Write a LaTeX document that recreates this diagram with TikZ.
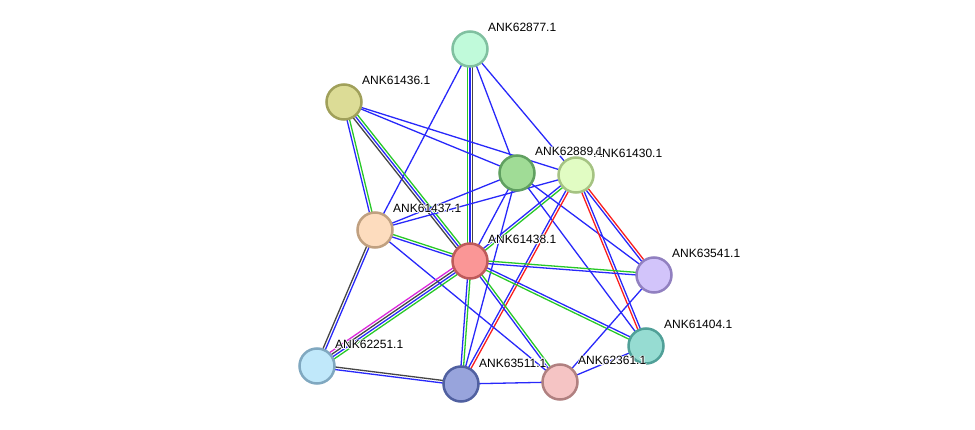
\documentclass[tikz,border=0pt]{standalone}
\usepackage{fontspec}
\setmainfont{Liberation Sans}
\usetikzlibrary{calc,backgrounds}
\definecolor{eblue}{RGB}{40,40,250}
\definecolor{egreen}{RGB}{40,200,40}
\definecolor{ered}{RGB}{250,30,30}
\definecolor{egray}{RGB}{70,70,70}
\definecolor{emag}{RGB}{220,40,220}
\definecolor{dA}{RGB}{128,192,160}\definecolor{fA}{RGB}{192,250,218}
\definecolor{dB}{RGB}{160,160,90}\definecolor{fB}{RGB}{220,220,150}
\definecolor{dC}{RGB}{96,160,96}\definecolor{fC}{RGB}{160,220,150}
\definecolor{dD}{RGB}{165,195,130}\definecolor{fD}{RGB}{225,252,195}
\definecolor{dE}{RGB}{192,160,128}\definecolor{fE}{RGB}{253,220,190}
\definecolor{dF}{RGB}{190,90,90}\definecolor{fF}{RGB}{250,150,150}
\definecolor{dG}{RGB}{145,128,192}\definecolor{fG}{RGB}{210,196,250}
\definecolor{dH}{RGB}{80,160,152}\definecolor{fH}{RGB}{150,220,210}
\definecolor{dI}{RGB}{128,168,192}\definecolor{fI}{RGB}{192,232,250}
\definecolor{dJ}{RGB}{80,96,160}\definecolor{fJ}{RGB}{152,164,220}
\definecolor{dK}{RGB}{176,128,128}\definecolor{fK}{RGB}{245,196,196}
\newcommand\hw[3]{\rlap{\hspace{#1}\raisebox{#2}{\color{white}#3}}}
\newcommand\halo[1]{\hw{0.9pt}{0pt}{#1}\hw{-0.9pt}{0pt}{#1}\hw{0pt}{0.9pt}{#1}\hw{0pt}{-0.9pt}{#1}\hw{0.65pt}{0.65pt}{#1}\hw{-0.65pt}{0.65pt}{#1}\hw{0.65pt}{-0.65pt}{#1}\hw{-0.65pt}{-0.65pt}{#1}#1}
% multi-line link: #1,#2 node names, #3 list colour/offset
\newcommand\mlink[3]{\foreach \c/\o in {#3}{\draw[\c,line width=1.3pt] ($(#1)!\o*2.6pt!90:(#2)$) -- ($(#2)!\o*2.6pt!-90:(#1)$);}}
\tikzset{
  prot/.style 2 args={circle,draw=#1,fill=#2,line width=2.5pt,minimum size=35pt,inner sep=0pt},
  lbl/.style={anchor=base west,inner sep=0pt,font=\fontsize{12}{12}\selectfont,text=black}
}
\begin{document}
\begin{tikzpicture}[x=1pt,y=-1pt]
\useasboundingbox (0,0) rectangle (975,430);
\node[prot={dA}{fA}] (n62877) at (470,49) {};
\node[prot={dB}{fB}] (n61436) at (344,102) {};
\node[prot={dC}{fC}] (n62889) at (517,173) {};
\node[prot={dD}{fD}] (n61430) at (576,175) {};
\node[prot={dE}{fE}] (n61437) at (375,230) {};
\node[prot={dF}{fF}] (n61438) at (470,261) {};
\node[prot={dG}{fG}] (n63541) at (654,275) {};
\node[prot={dH}{fH}] (n61404) at (646,346) {};
\node[prot={dI}{fI}] (n62251) at (317,366) {};
\node[prot={dJ}{fJ}] (n63511) at (461,384) {};
\node[prot={dK}{fK}] (n62361) at (560,382) {};
\begin{scope}[on background layer]
\mlink{n62877}{n61438}{egreen/-1,eblue/0,egray/1}
\mlink{n62877}{n61437}{eblue/0}
\mlink{n62877}{n62889}{eblue/0}
\mlink{n62877}{n61430}{eblue/0}
\mlink{n61436}{n61437}{eblue/-0.5,egreen/0.5}
\mlink{n61436}{n61438}{egray/-1,eblue/0,egreen/1}
\mlink{n61436}{n62889}{eblue/0}
\mlink{n61436}{n61430}{eblue/0}
\mlink{n62889}{n61437}{eblue/0}
\mlink{n61430}{n61437}{eblue/0}
\mlink{n62889}{n61438}{eblue/0}
\mlink{n61430}{n61438}{egreen/0.5,eblue/-0.5}
\mlink{n62889}{n63511}{eblue/0}
\mlink{n62889}{n63541}{eblue/0}
\mlink{n62889}{n61404}{eblue/0}
\mlink{n61430}{n63511}{eblue/-0.5,ered/0.5}
\mlink{n61430}{n63541}{eblue/-0.5,ered/0.5}
\mlink{n61430}{n61404}{eblue/0.5,ered/-0.5}
\mlink{n61437}{n61438}{egreen/0.5,eblue/-0.5}
\mlink{n61437}{n62251}{egray/-0.5,eblue/0.5}
\mlink{n61437}{n62361}{eblue/0}
\mlink{n61438}{n63541}{egreen/0.5,eblue/-0.5}
\mlink{n61438}{n61404}{egreen/-0.5,eblue/0.5}
\mlink{n61438}{n62251}{emag/-1.5,egray/-0.5,eblue/0.5,egreen/1.5}
\mlink{n61438}{n63511}{eblue/-0.5,egreen/0.5}
\mlink{n61438}{n62361}{eblue/-0.5,egreen/0.5}
\mlink{n62251}{n63511}{egray/0.5,eblue/-0.5}
\mlink{n63511}{n62361}{eblue/0}
\mlink{n62361}{n63541}{eblue/0}
\mlink{n62361}{n61404}{eblue/0}
\end{scope}
\node[lbl] (l62877) at ($(n62877)+(18,-17)$) {\halo{ANK62877.1}};
\node[lbl] (l61436) at ($(n61436)+(18,-17)$) {\halo{ANK61436.1}};
\node[lbl] (l61430) at ($(n61430)+(18,-17)$) {\halo{ANK61430.1}};
\node[lbl] (l62889) at ($(n62889)+(18,-17)$) {\halo{ANK62889.1}};
\node[lbl] (l61437) at ($(n61437)+(18,-17)$) {\halo{ANK61437.1}};
\node[lbl] (l61438) at ($(n61438)+(18,-17)$) {\halo{ANK61438.1}};
\node[lbl] (l63541) at ($(n63541)+(18,-17)$) {\halo{ANK63541.1}};
\node[lbl] (l61404) at ($(n61404)+(18,-17)$) {\halo{ANK61404.1}};
\node[lbl] (l62251) at ($(n62251)+(18,-17)$) {\halo{ANK62251.1}};
\node[lbl] (l63511) at ($(n63511)+(18,-17)$) {\halo{ANK63511.1}};
\node[lbl] (l62361) at ($(n62361)+(18,-17)$) {\halo{ANK62361.1}};
\end{tikzpicture}
\end{document}
